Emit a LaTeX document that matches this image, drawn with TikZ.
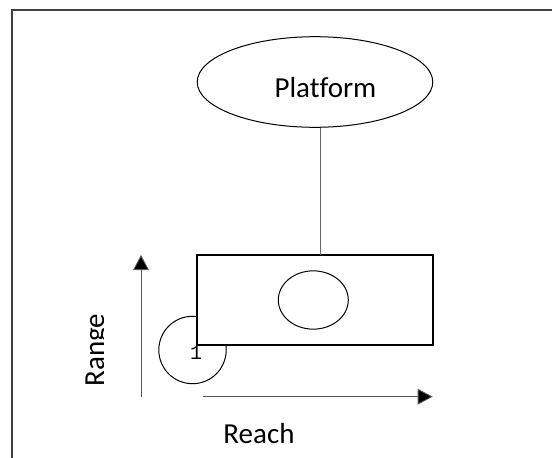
\documentclass[tikz,border=0pt]{standalone}
\usepackage{fontspec}
\setmainfont[Ligatures=NoCommon]{Carlito}
\newfontfamily\monofnt{Liberation Mono}
\usetikzlibrary{arrows.meta,shapes.geometric}
\begin{document}
\begin{tikzpicture}[x=1pt,y=-1pt,
  frameline/.style={draw=black!75,line width=1.2pt},
  shapeline/.style={draw=black,line width=1pt},
  boxline/.style={draw=black,line width=1.8pt,fill=white},
  thinline/.style={draw=black!60,line width=0.9pt},
  axisarrow/.style={draw=black!65,line width=0.9pt,-{Triangle[length=15pt,width=15.7pt,fill=black]}},
  lbl/.style={inner sep=0pt,font=\fontsize{29}{33}\selectfont},
]
\useasboundingbox (0,0) rectangle (552,458);
% frame
\coordinate (ftl) at (12,10);
\coordinate (ftr) at (552,10);
\coordinate (fbl) at (12,458);
\draw[frameline] (ftr) -- (ftl) -- (fbl);
% platform ellipse
\node[ellipse,shapeline,minimum width=235.6pt,minimum height=90.6pt,inner sep=0pt] (plat) at (315,82) {};
\node[lbl,anchor=base] (plattext) at (325.5,97.3) {Platform};
% circle 1 (behind the box)
\node[circle,shapeline,minimum size=67.4pt,inner sep=0pt] (c1) at (192.5,350) {};
% box
\node[rectangle,boxline,minimum width=235.4pt,minimum height=90.3pt,inner sep=0pt] (box) at (315,300.15) {};
\node[ellipse,shapeline,minimum width=70pt,minimum height=58.3pt,inner sep=0pt] (inner) at (313.3,300) {};
\node[inner sep=0pt,anchor=base,font=\monofnt\fontsize{20}{22}\selectfont] (one) at (196,359) {1};
% connector
\coordinate (link) at (320,255);
\draw[thinline] (link |- plat.south) -- (link);
% axes
\coordinate (vs) at (141,396.7);
\coordinate (ve) at (141,255);
\coordinate (hs) at (203.3,396.7);
\coordinate (he) at (432.7,396.7);
\draw[axisarrow] (vs) -- (ve);
\draw[axisarrow] (hs) -- (he);
% labels
\begin{scope}
\clip (60,300) rectangle (103.5,400);
\node[lbl,anchor=base,rotate=90] (range) at (104,350) {Range};
\end{scope}
\node[lbl,anchor=base] (reach) at (259,443.3) {Reach};
\end{tikzpicture}
\end{document}
